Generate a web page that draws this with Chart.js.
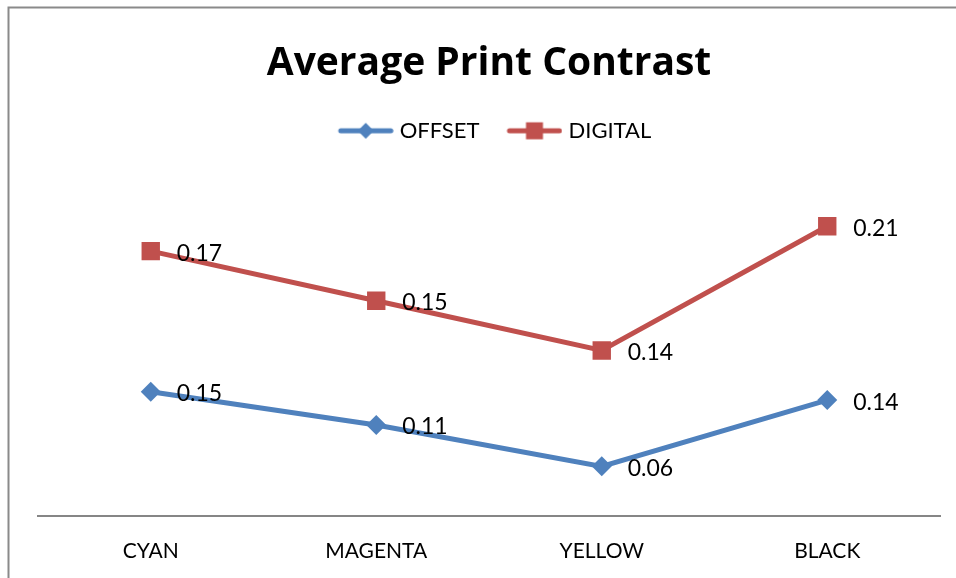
<!DOCTYPE html>
<html>
<head>
<meta charset="utf-8">
<script src="https://cdn.jsdelivr.net/npm/chart.js@4/dist/chart.umd.min.js"></script>
<style>
  html, body { margin: 0; padding: 0; background: #ffffff; }
  #wrap { width: 956px; height: 578px; position: relative; }
</style>
</head>
<body>
<div id="wrap"><canvas id="chart" width="956" height="578"></canvas></div>
<script>
// Print contrast per ink colour, two printing processes (stacked lines)
const categories = ['CYAN', 'MAGENTA', 'YELLOW', 'BLACK'];
const offsetValues = [0.15, 0.11, 0.06, 0.14];
const digitalValues = [0.17, 0.15, 0.14, 0.21];
const seriesNames = ['OFFSET', 'DIGITAL'];
const seriesColors = ['#4F81BD', '#C0504D'];
const seriesMarkers = ['rectRot', 'rect'];

const FONT = 'Lato, "Open Sans", sans-serif';
const TITLE_FONT = '"Open Sans", Lato, sans-serif';

// Legend swatch: a short line segment with the series marker on it,
// drawn in the right part of a wider transparent image so it sits close to its text
function legendSwatch(color, marker) {
  const c = document.createElement('canvas');
  c.width = 72; c.height = 20;
  const g = c.getContext('2d');
  const x0 = 16, cx = 44;
  g.strokeStyle = color;
  g.lineWidth = 5;
  g.lineCap = 'round';
  g.beginPath(); g.moveTo(x0 + 3, 10); g.lineTo(x0 + 53, 10); g.stroke();
  g.fillStyle = color;
  g.beginPath();
  if (marker === 'rectRot') {
    g.moveTo(cx, 2); g.lineTo(cx + 8, 10); g.lineTo(cx, 18); g.lineTo(cx - 8, 10);
  } else {
    g.rect(cx - 8.5, 1.5, 17, 17);
  }
  g.closePath(); g.fill();
  return c;
}

// Outer frame of the chart
const framePlugin = {
  id: 'frame',
  beforeDraw(chart) {
    const ctx = chart.ctx;
    ctx.save();
    ctx.strokeStyle = '#8a8a8a';
    ctx.lineWidth = 2;
    ctx.beginPath();
    ctx.moveTo(8.5, chart.height);
    ctx.lineTo(8.5, 7.5);
    ctx.lineTo(chart.width, 7.5);
    ctx.stroke();
    ctx.restore();
  }
};

// Value labels to the right of each marker
const valueLabels = {
  id: 'valueLabels',
  afterDatasetsDraw(chart) {
    const ctx = chart.ctx;
    ctx.save();
    ctx.font = '23px ' + FONT;
    ctx.fillStyle = '#000000';
    ctx.textAlign = 'left';
    ctx.textBaseline = 'middle';
    chart.data.datasets.forEach((ds, i) => {
      const meta = chart.getDatasetMeta(i);
      meta.data.forEach((pt, j) => {
        ctx.fillText(ds.data[j].toFixed(2), pt.x + 26, pt.y + 2);
      });
    });
    ctx.restore();
  }
};

const seriesData = [offsetValues, digitalValues];

new Chart(document.getElementById('chart'), {
  type: 'line',
  data: {
    labels: categories,
    datasets: seriesNames.map((name, i) => ({
      label: name,
      data: seriesData[i],
      borderColor: seriesColors[i],
      backgroundColor: seriesColors[i],
      pointBackgroundColor: seriesColors[i],
      pointBorderColor: seriesColors[i],
      pointStyle: seriesMarkers[i],
      pointRadius: i === 0 ? 10 : 13,
      pointBorderWidth: 0,
      borderWidth: 5,
      tension: 0,
      fill: false
    }))
  },
  options: {
    responsive: false,
    animation: false,
    devicePixelRatio: 1,
    layout: { padding: { left: 38, right: 16, top: 0, bottom: 0 } },
    plugins: {
      title: {
        display: true,
        text: 'Average Print Contrast',
        color: '#000000',
        font: { family: TITLE_FONT, size: 39, weight: 'bold' },
        padding: { top: 40, bottom: 17 }
      },
      legend: {
        display: true,
        position: 'top',
        labels: {
          color: '#000000',
          font: { family: FONT, size: 22 },
          usePointStyle: true,
          pointStyleWidth: 62,
          padding: 16,
          generateLabels(chart) {
            return chart.data.datasets.map((ds, i) => ({
              text: ds.label,
              pointStyle: legendSwatch(seriesColors[i], seriesMarkers[i]),
              fillStyle: seriesColors[i],
              strokeStyle: seriesColors[i],
              lineWidth: 0,
              hidden: false,
              datasetIndex: i,
              fontColor: '#000000'
            }));
          }
        }
      },
      tooltip: { enabled: false }
    },
    scales: {
      x: {
        offset: true,
        grid: { display: false, drawTicks: false },
        border: { display: true, color: '#868686', width: 2 },
        ticks: { color: '#000000', font: { family: FONT, size: 21 }, padding: 23 },
        afterFit(scale) { scale.height = 62; }
      },
      y: {
        display: false,
        stacked: true,
        min: 0,
        max: 0.44
      }
    }
  },
  plugins: [framePlugin, valueLabels]
});
</script>
</body>
</html>
